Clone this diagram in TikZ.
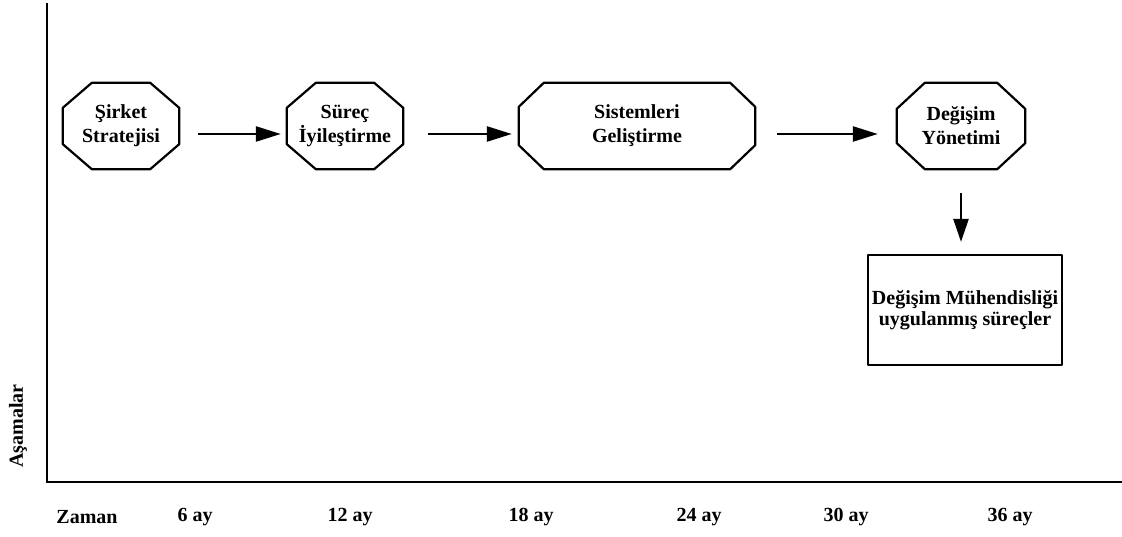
\documentclass[tikz,border=0pt]{standalone}
\usepackage{fontspec}
\setmainfont{Liberation Serif}
\usetikzlibrary{arrows.meta}
\begin{document}
\begin{tikzpicture}[x=1pt,y=-1pt,
  lbl/.style={font=\bfseries\fontsize{20}{24}\selectfont, align=center, inner sep=0pt},
  octbox/.style={lbl, minimum width=#1, minimum height=86pt, draw=none},
  shp/.style={line width=2.2pt, line join=round},
  flow/.style={line width=2.5pt, -{Triangle[length=25pt,width=15pt]}},
  flowd/.style={line width=2.5pt, -{Triangle[length=23pt,width=15pt]}}]
\useasboundingbox (0,0) rectangle (1122,537);
\newcommand\drawocto[3]{\draw[shp] ([xshift=#2]#1.north west) -- ([xshift=-#2]#1.north east) -- ([yshift=-#3]#1.north east) -- ([yshift=#3]#1.south east) -- ([xshift=-#2]#1.south east) -- ([xshift=#2]#1.south west) -- ([yshift=#3]#1.south west) -- ([yshift=-#3]#1.north west) -- cycle;}

% axes
\coordinate (ytop) at (47,3);
\coordinate (orig) at (47,482);
\coordinate (xend) at (1122,482);
\draw[line width=2.6pt] (ytop) -- (orig) -- (xend);

% stage nodes
\node[octbox=116pt] (s1) at (121,126) {Şirket\\Stratejisi};
\node[octbox=116pt] (s2) at (345,126) {Süreç\\İyileştirme};
\node[octbox=236pt] (s3) at (637,126) {Sistemleri\\Geliştirme};
\node[octbox=128pt] (s4) at (961,126) {Değişim\\Yönetimi};
\drawocto{s1}{29pt}{25pt}
\drawocto{s2}{29pt}{25pt}
\drawocto{s3}{25pt}{24pt}
\drawocto{s4}{28pt}{26pt}

\node[draw, shp, lbl, font=\bfseries\fontsize{20}{21}\selectfont, minimum width=194pt, minimum height=110pt] (r) at (965,310) {Değişim Mühendisliği\\uygulanmış süreçler};

% connectors
\draw[flow, shorten <=19pt, shorten >=6pt] ([yshift=-8pt]s1.east) -- ([yshift=-8pt]s2.west);
\draw[flow, shorten <=25pt, shorten >=7pt] ([yshift=-8pt]s2.east) -- ([yshift=-8pt]s3.west);
\draw[flow, shorten <=22pt, shorten >=19pt] ([yshift=-8pt]s3.east) -- ([yshift=-8pt]s4.west);
\draw[flowd, shorten <=24pt, shorten >=12pt] (s4.south) -- (s4.south |- r.north);

% axis labels
\node[lbl, rotate=90] (asm) at (18,426) {Aşamalar};
\node[lbl] (t0) at (87,517) {Zaman};
\node[lbl] (t6) at (195,517) {6 ay};
\node[lbl] (t12) at (350,517) {12 ay};
\node[lbl] (t18) at (531,517) {18 ay};
\node[lbl] (t24) at (699,517) {24 ay};
\node[lbl] (t30) at (846,517) {30 ay};
\node[lbl] (t36) at (1010,517) {36 ay};
\end{tikzpicture}
\end{document}
